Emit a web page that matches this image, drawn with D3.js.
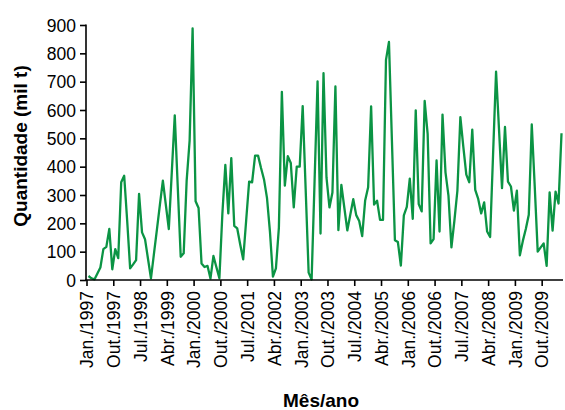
<!DOCTYPE html>
<html><head><meta charset="utf-8">
<script src="https://cdn.jsdelivr.net/npm/d3@7"></script>
<style>body{margin:0;background:#fff}</style>
</head><body>
<script>
const monthNames = ["Jan.","Fev.","Mar.","Abr.","Mai.","Jun.","Jul.","Ago.","Set.","Out.","Nov.","Dez."];
const startYear = 1997;
const values = [14,6,2,23,44,109,117,180,38,109,77,345,368,210,41,55,70,304,168,144,
75,6,92,178,265,351,265,180,380,581,330,82,94,351,493,888,278,254,58,46,
50,5,85,45,6,233,406,235,430,191,182,125,73,210,347,345,439,439,395,355,
290,170,12,41,185,664,333,437,413,256,400,400,614,320,26,2,350,701,164,730,
362,256,309,683,176,336,255,175,230,285,229,208,155,281,327,613,266,280,212,212,
777,840,490,140,134,51,228,258,358,216,599,268,242,632,516,129,144,422,171,584,
380,298,115,210,315,575,470,372,345,531,318,286,235,274,171,152,445,735,530,324,
540,347,330,245,315,87,138,180,230,549,330,100,115,129,50,309,174,312,270,518];
const months = values.map((v,i)=> monthNames[i%12] + "/" + (startYear + Math.floor(i/12)));
const tickLabels = months.filter((m,i)=> i%9===0);
const yTicks = [0,100,200,300,400,500,600,700,800,900];

const W=565,H=410;
const svg=d3.select("body").append("svg").attr("width",W).attr("height",H);
const x=d3.scaleBand().domain(months).range([87,563]);
const y=d3.scaleLinear().domain([0,900]).range([280,25]);

svg.append("path").datum(values)
  .attr("fill","none").attr("stroke","#0b9444").attr("stroke-width",2.3)
  .attr("stroke-linejoin","round")
  .attr("d",d3.line().x((d,i)=>x(months[i])+x.bandwidth()/2).y(d=>y(d)));

const font="Liberation Sans, Arial, Helvetica, sans-serif";
const yAxis=svg.append("g").attr("transform","translate(86,0)")
  .call(d3.axisLeft(y).tickValues(yTicks).tickSize(6).tickSizeOuter(0));
const xAxis=svg.append("g").attr("transform","translate(0,280)")
  .call(d3.axisBottom(x).tickValues(tickLabels).tickSize(6).tickSizeOuter(0));
xAxis.selectAll(".tick").attr("transform",d=>`translate(${x(d)},0)`);
[yAxis,xAxis].forEach(g=>{
  g.selectAll("path,line").attr("stroke","#000").attr("stroke-width",1.6);
  g.selectAll("text").attr("font-family",font).attr("font-size",17.5).attr("fill","#000");
});
yAxis.select(".domain").attr("d","M0,24.5V280.8");
xAxis.select(".domain").attr("d","M85.2,0H563");
yAxis.selectAll("text").attr("x",-10).attr("dy","0.35em");
xAxis.selectAll("text").attr("transform","rotate(-90)").attr("text-anchor","end")
  .attr("x",-11).attr("y",0).attr("dy","0.36em");

svg.append("text").attr("transform","translate(27,146) rotate(-90)")
  .attr("text-anchor","middle").attr("font-family",font).attr("font-weight","bold")
  .attr("font-size",19).text("Quantidade (mil t)");
svg.append("text").attr("x",321).attr("y",407)
  .attr("text-anchor","middle").attr("font-family",font).attr("font-weight","bold")
  .attr("font-size",19).text("Mês/ano");
</script>
</body></html>
